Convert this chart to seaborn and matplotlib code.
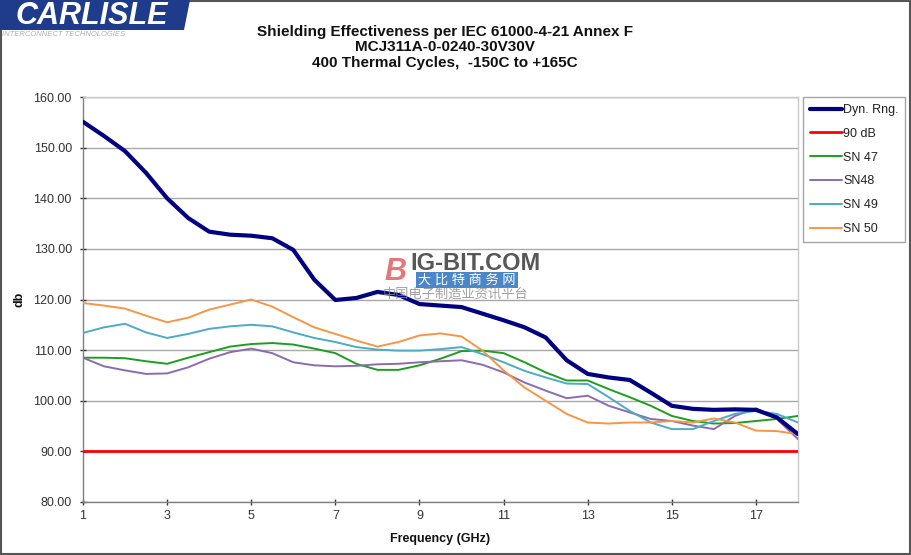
import matplotlib
matplotlib.use("Agg")
import matplotlib.pyplot as plt
import seaborn as sns
import pandas as pd
from matplotlib.patches import Rectangle, Polygon

freq = [1, 1.5, 2, 2.5, 3, 3.5, 4, 4.5, 5, 5.5, 6, 6.5, 7, 7.5, 8, 8.5, 9, 9.5,
        10, 10.5, 11, 11.5, 12, 12.5, 13, 13.5, 14, 14.5, 15, 15.5, 16, 16.5, 17, 17.5, 18]

dyn_rng = [155.1, 152.3, 149.3, 145.0, 140.0, 136.1, 133.4, 132.8, 132.6, 132.1, 129.8, 123.9,
           119.9, 120.3, 121.5, 120.9, 119.1, 118.8, 118.5, 117.2, 115.9, 114.5, 112.5, 108.0,
           105.3, 104.6, 104.1, 101.6, 99.0, 98.4, 98.2, 98.3, 98.2, 96.7, 93.4]
db90 = [90.0] * len(freq)
sn47 = [108.5, 108.5, 108.4, 107.8, 107.3, 108.5, 109.6, 110.7, 111.2, 111.4, 111.1, 110.3,
        109.4, 107.3, 106.1, 106.1, 107.0, 108.3, 109.8, 109.9, 109.4, 107.6, 105.6, 104.0,
        104.0, 102.3, 100.7, 99.0, 97.0, 96.0, 95.5, 95.6, 96.0, 96.4, 97.0]
sn48 = [108.5, 106.8, 106.0, 105.3, 105.4, 106.6, 108.3, 109.6, 110.3, 109.4, 107.6, 107.0,
        106.8, 106.9, 107.2, 107.3, 107.6, 107.8, 108.0, 107.1, 105.6, 103.6, 102.0, 100.5,
        101.0, 99.0, 97.7, 96.4, 96.0, 95.1, 94.4, 97.0, 98.5, 96.4, 92.4]
sn49 = [113.4, 114.5, 115.2, 113.5, 112.4, 113.2, 114.2, 114.7, 115.0, 114.7, 113.5, 112.4,
        111.6, 110.6, 110.1, 109.9, 109.9, 110.2, 110.6, 109.2, 107.6, 105.9, 104.6, 103.4,
        103.3, 100.7, 98.0, 95.7, 94.4, 94.4, 96.0, 97.4, 98.0, 97.4, 95.7]
sn50 = [119.3, 118.8, 118.2, 116.8, 115.5, 116.4, 118.0, 119.0, 120.0, 118.6, 116.5, 114.5,
        113.2, 111.9, 110.7, 111.6, 112.9, 113.3, 112.7, 109.9, 106.0, 102.6, 100.0, 97.4,
        95.7, 95.5, 95.7, 95.7, 96.0, 95.7, 96.5, 95.7, 94.1, 94.0, 93.4]

series_names = ["Dyn. Rng.", "90 dB", "SN 47", "SN48", "SN 49", "SN 50"]
series_vals = [dyn_rng, db90, sn47, sn48, sn49, sn50]
colors = ["#000080", "#FF0000", "#1E9E1E", "#8C6BB1", "#4BACC6", "#F79646"]
widths = [3.0, 2.0, 1.4, 1.4, 1.4, 1.4]

rows = []
for name, vals in zip(series_names, series_vals):
    for f, v in zip(freq, vals):
        rows.append({"Frequency": f, "db": v, "Series": name})
df = pd.DataFrame(rows)

sns.set_theme(style="white")
plt.rcParams['font.family'] = ['Liberation Sans', 'Noto Sans CJK SC', 'DejaVu Sans']

fig = plt.figure(figsize=(9.12, 5.55), dpi=100)
ax = fig.add_axes([83/912, 1-502/555, (798-83)/912, (502-97)/555])

for name, c, w in zip(series_names, colors, widths):
    sns.lineplot(data=df[df["Series"] == name], x="Frequency", y="db", ax=ax,
                 color=c, linewidth=w, label=name, zorder=4 if name == "Dyn. Rng." else 3)

ax.set_xlim(1, 18)
ax.set_ylim(80, 160)
ax.set_xticks([1, 3, 5, 7, 9, 11, 13, 15, 17])
ax.set_yticks([80, 90, 100, 110, 120, 130, 140, 150, 160])
ax.set_yticklabels([f"{v:.2f}" for v in [80, 90, 100, 110, 120, 130, 140, 150, 160]])
ax.grid(axis="y", color="#A8A8A8", linewidth=1.0)
ax.grid(axis="x", visible=False)
ax.tick_params(axis="both", labelsize=9, colors="#333333", length=4, width=1,
               direction="inout", left=True, bottom=True)
ax.tick_params(axis="y", pad=6)
for s in ["top", "right"]:
    ax.spines[s].set_color("#C8C8C8")
    ax.spines[s].set_linewidth(1)
for s in ["left", "bottom"]:
    ax.spines[s].set_color("#808080")
    ax.spines[s].set_linewidth(1)
ax.set_xlabel("Frequency (GHz)", fontsize=9, fontweight="bold", color="#111111", labelpad=8)
ax.set_ylabel("db", fontsize=9, fontweight="bold", color="#111111")
ax.yaxis.set_label_coords((25-83)/715, 0.5)

leg = ax.legend(loc="upper left", bbox_to_anchor=(803/912, 1-97/555), bbox_transform=fig.transFigure,
                frameon=True, fancybox=False, fontsize=9, handlelength=2.6, borderpad=0.55,
                labelspacing=0.95, handletextpad=0.05, borderaxespad=0)
leg.get_frame().set_edgecolor("#909090")
leg.get_frame().set_linewidth(1)
for t in leg.get_texts():
    t.set_color("#222222")
for lh, w in zip(leg.get_lines(), widths):
    lh.set_linewidth(w)

fig.text(445/912, 1-32/555, "Shielding Effectiveness per IEC 61000-4-21 Annex F",
         ha="center", va="center", fontsize=11, fontweight="bold", color="#111111")
fig.text(445/912, 1-47/555, "MCJ311A-0-0240-30V30V",
         ha="center", va="center", fontsize=11, fontweight="bold", color="#111111")
fig.text(445/912, 1-63/555, "400 Thermal Cycles,  -150C to +165C",
         ha="center", va="center", fontsize=11, fontweight="bold", color="#111111")

# logo
fig.patches.append(Polygon([(0, 1), (190/912, 1), (184/912, 1-30/555), (0, 1-30/555)],
                           closed=True, transform=fig.transFigure,
                           facecolor="#1F3C8C", edgecolor="none", zorder=1))
fig.text(92/912, 1-16/555, "CARLISLE", ha="center", va="center", fontsize=22,
         fontweight="bold", fontstyle="italic", color="white")
fig.text(2/912, 1-34/555, "INTERCONNECT TECHNOLOGIES", ha="left", va="center",
         fontsize=5.5, color="#B0B0B0", fontstyle="italic")

# watermark
fig.text(384/912, 1-272/555, "B", ha="left", va="center", fontsize=22,
         fontweight="bold", fontstyle="italic", color="#E06060", alpha=0.85)
fig.text(410/912, 1-264/555, "IG-BIT.COM", ha="left", va="center", fontsize=17,
         fontweight="bold", color="#3A3A3A", alpha=0.85)
fig.text(418/912, 1-280/555, "大 比 特 商 务 网", ha="left", va="center", fontsize=9.5,
         color="white", bbox=dict(boxstyle="square,pad=0.15", facecolor="#4A86C8", edgecolor="none"))
fig.text(383/912, 1-294/555, "中国电子制造业资讯平台", ha="left", va="center", fontsize=9.5,
         color="#888888", alpha=0.8)

# outer frame
fig.patches.append(Rectangle((0.001, 0.002), 0.997, 0.996, transform=fig.transFigure,
                             facecolor="none", edgecolor="#555555", linewidth=1.5, zorder=0))

fig.savefig("out.png", dpi=100)
